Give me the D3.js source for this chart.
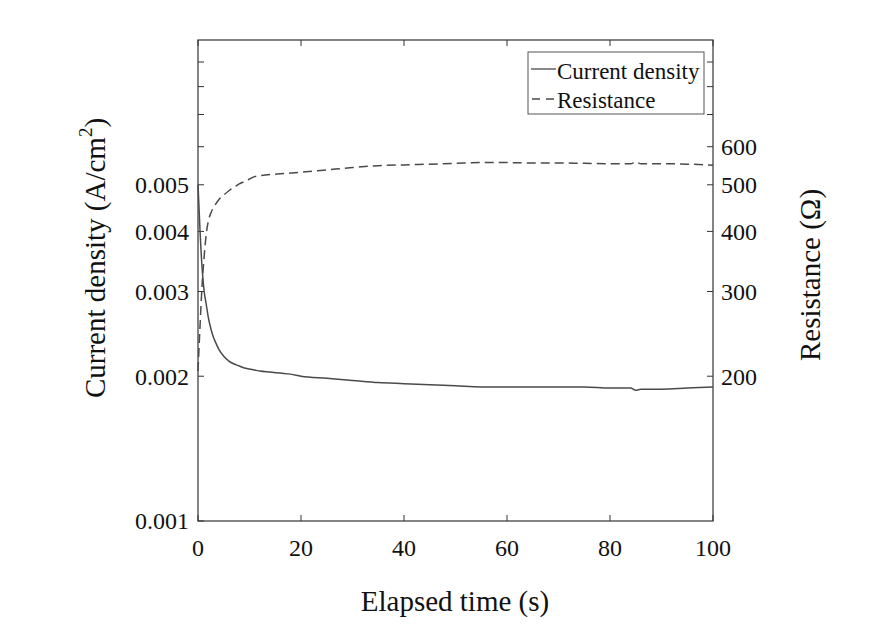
<!DOCTYPE html>
<html><head><meta charset="utf-8">
<script src="https://cdn.jsdelivr.net/npm/d3@7/dist/d3.min.js"></script>
<style>
body{margin:0;background:#fff;}
</style></head>
<body><svg id="c" width="893" height="625"></svg>
<script>
const time = [0,0.4,0.8,1.2,1.6,2.0,2.5,3,3.5,4,5,6,7,8,9,10,11,12,14,16,18,20,25,30,35,40,45,50,55,60,65,70,75,80,84,85,86,88,90,95,100];
const currentDensity = [0.0050,0.0040,0.00335,0.0030,0.00282,0.00265,0.00251,0.00241,0.00234,0.00228,0.00220,0.00215,0.00212,0.00210,0.00208,0.00207,0.00206,0.00205,0.00204,0.00203,0.00202,0.00200,0.00198,0.00196,0.00194,0.00193,0.00192,0.00191,0.00190,0.00190,0.00190,0.00190,0.00190,0.00189,0.00189,0.00187,0.00188,0.00188,0.00188,0.00189,0.00190];
const resistance = [205,255,310,355,395,420,437,448,457,465,476,486,494,502,508,514,520,522,525,527,529,531,537,543,548,550,552,554,556,556,555,555,554,553,553,558,553,553,553,552,549];
const xTicks = [0,20,40,60,80,100];
const leftTickLabels = [0.001,0.002,0.003,0.004,0.005];
const leftMinorTicks = [0.006,0.007,0.008,0.009];
const rightTickLabels = [200,300,400,500,600];
const rightMinorTicks = [700,800,900];
const seriesNames = ["Current density","Resistance"];

const L=198,T=40,W=515,H=481;
const svg=d3.select("#c");
const g=svg.append("g").attr("transform",`translate(${L},${T})`);
const x=d3.scaleLinear().domain([0,100]).range([0,W]);
const yL=d3.scaleLog().domain([0.001,0.01]).range([H,0]);
const yR=d3.scaleLog().domain([100,1000]).range([H,0]);
const axCol="#333";
const txt=(sel)=>sel.append("text").style("font-family","Liberation Serif").attr("fill","#111");

g.append("rect").attr("width",W).attr("height",H).attr("fill","none").attr("stroke",axCol).attr("stroke-width",1.2);

const tl=6;
xTicks.forEach(v=>{
  g.append("line").attr("x1",x(v)).attr("x2",x(v)).attr("y1",H).attr("y2",H-tl).attr("stroke",axCol);
  g.append("line").attr("x1",x(v)).attr("x2",x(v)).attr("y1",0).attr("y2",tl).attr("stroke",axCol);
  txt(g).attr("x",x(v)).attr("y",H+35).attr("text-anchor","middle").attr("font-size",24).text(v);
});
leftTickLabels.concat(leftMinorTicks).forEach(v=>{
  g.append("line").attr("x1",0).attr("x2",tl).attr("y1",yL(v)).attr("y2",yL(v)).attr("stroke",axCol);
});
leftTickLabels.forEach(v=>{
  txt(g).attr("x",-9).attr("y",yL(v)).attr("dy","0.35em").attr("text-anchor","end").attr("font-size",24).text(d3.format(".3f")(v));
});
rightTickLabels.concat(rightMinorTicks).forEach(v=>{
  g.append("line").attr("x1",W).attr("x2",W-tl).attr("y1",yR(v)).attr("y2",yR(v)).attr("stroke",axCol);
});
rightTickLabels.forEach(v=>{
  txt(g).attr("x",W+8).attr("y",yR(v)).attr("dy","0.35em").attr("text-anchor","start").attr("font-size",24).text(v);
});

const lc="#4a4a4a";
const lineJ=d3.line().x((d,i)=>x(time[i])).y(d=>yL(d)).curve(d3.curveMonotoneX);
const lineR=d3.line().x((d,i)=>x(time[i])).y(d=>yR(d)).curve(d3.curveMonotoneX);
g.append("path").attr("d",lineJ(currentDensity)).attr("fill","none").attr("stroke",lc).attr("stroke-width",1.5);
g.append("path").attr("d",lineR(resistance)).attr("fill","none").attr("stroke",lc).attr("stroke-width",1.5).attr("stroke-dasharray","9,5");

const lg=svg.append("g");
lg.append("rect").attr("x",528).attr("y",52).attr("width",176).attr("height",62).attr("fill","#fff").attr("stroke","#555").attr("stroke-width",1);
lg.append("line").attr("x1",531).attr("x2",556).attr("y1",69).attr("y2",69).attr("stroke",lc).attr("stroke-width",1.3);
lg.append("line").attr("x1",532).attr("x2",554).attr("y1",99).attr("y2",99).attr("stroke",lc).attr("stroke-width",1.3).attr("stroke-dasharray","8,6");
txt(lg).attr("x",557).attr("y",79).attr("font-size",23).text(seriesNames[0]);
txt(lg).attr("x",557).attr("y",108).attr("font-size",23).text(seriesNames[1]);

txt(svg).attr("x",455).attr("y",611).attr("text-anchor","middle").attr("font-size",29).text("Elapsed time (s)");
const lt=txt(svg).attr("transform","translate(105,258) rotate(-90)").attr("text-anchor","middle").attr("font-size",29);
lt.append("tspan").text("Current density (A/cm");
lt.append("tspan").attr("font-size",19).attr("dy",-13).text("2");
lt.append("tspan").attr("dy",13).text(")");
txt(svg).attr("transform","translate(820,275) rotate(-90)").attr("text-anchor","middle").attr("font-size",29).text("Resistance (Ω)");
</script></body></html>
